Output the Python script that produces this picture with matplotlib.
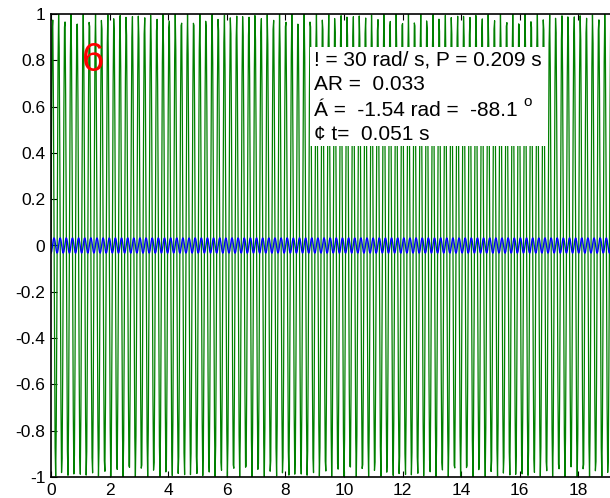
import numpy as np
import matplotlib
matplotlib.use('Agg')
import matplotlib.pyplot as plt
from matplotlib.patches import Rectangle

plt.rcParams['font.family'] = ['Liberation Sans', 'DejaVu Sans']

# parámetros de la respuesta en frecuencia (los que se anotan en la caja)
omega = 30.0        # rad/s
period = 0.209      # s
amp_ratio = 0.033
phase = -1.54       # rad
phase_deg = -88.1
lag = 0.051         # s

dt = 0.02
t = np.arange(0, 20 + dt, dt)
u = np.sin(omega * t)                       # entrada
y = amp_ratio * np.sin(omega * t + phase)   # salida

yticks = [-1, -0.8, -0.6, -0.4, -0.2, 0, 0.2, 0.4, 0.6, 0.8, 1]
ytick_labels = ['-1', '-0.8', '-0.6', '-0.4', '-0.2', '0', '0.2', '0.4', '0.6', '0.8', '1']
xticks = [0, 2, 4, 6, 8, 10, 12, 14, 16, 18]

W, H = 610, 498
fig = plt.figure(figsize=(W / 100, H / 100), dpi=100)
ax = fig.add_axes([51 / W, 21 / H, 586 / W, 463 / H])

ax.plot(t, u, color='#008000', lw=0.9)
ax.plot(t, y, color='#0000ff', lw=1.0)

ax.set_xlim(0, 20)
ax.set_ylim(-1, 1)
ax.set_xticks(xticks)
ax.set_xticklabels([str(v) for v in xticks])
ax.set_yticks(yticks)
ax.set_yticklabels(ytick_labels)
ax.tick_params(direction='in', top=True, right=True, length=4,
               labelsize=12.5, pad=4, width=0.8)
for s in ax.spines.values():
    s.set_linewidth(1.2)

ax.text(42 / 586, 1 - 46 / 463, '6', transform=ax.transAxes,
        color='red', fontsize=29, ha='center', va='center')

# caja blanca con los resultados
fig.patches.append(Rectangle((310 / W, 1 - 146 / H), 236 / W, 99 / H,
                             transform=fig.transFigure, facecolor='white',
                             edgecolor='none', zorder=5))
lines = [f'! = {omega:.0f} rad/ s, P = {period:.3f} s',
         f'AR =  {amp_ratio:.3f}',
         f'Á =  {phase:.2f} rad =  {phase_deg:.1f} ',
         f'¢ t=  {lag:.3f} s']
baselines = [65, 90, 116, 140]
for txt, yb in zip(lines, baselines):
    tt = fig.text(314 / W, 1 - yb / H, txt, fontsize=15, ha='left',
                  va='baseline', zorder=6)

# superíndice de grados detrás de la tercera línea
fig.canvas.draw()
bb = tt.figure.texts[2].get_window_extent()
fig.text(bb.x1 / W, 1 - 106 / H, 'o', fontsize=11, ha='left',
         va='baseline', zorder=6)

fig.savefig('out.png', dpi=100)
